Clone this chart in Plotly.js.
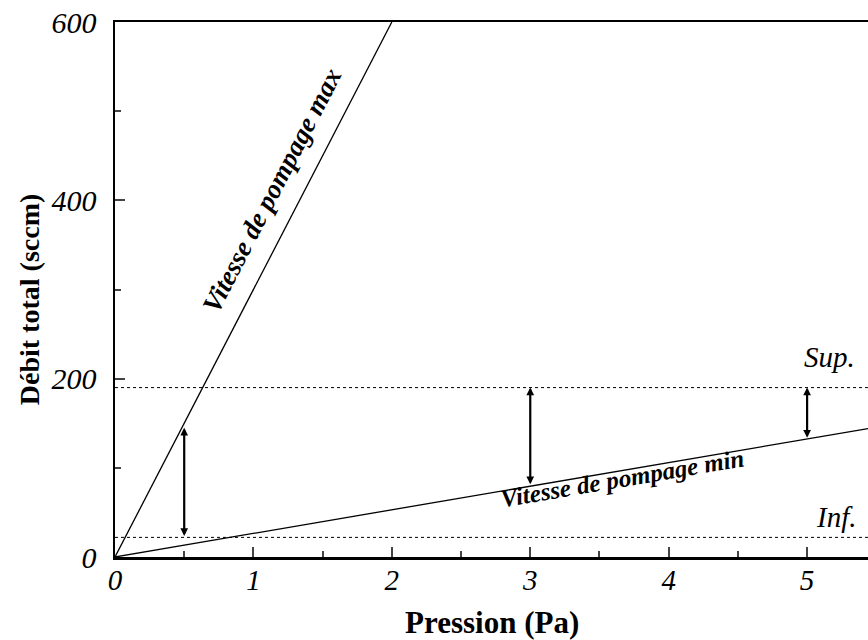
<!DOCTYPE html>
<html><head><meta charset="utf-8">
<script src="https://cdn.plot.ly/plotly-3.0.1.min.js"></script>
<style>body{margin:0;background:#fff}#g{width:868px;height:640px}</style>
</head><body><div id="g"></div>
<script>
const xMax = [0, 2];
const yMax = [0, 600];
const xMin = [0, 5.44];
const yMin = [0, 144];
const xLim = [0, 5.44];
const supLevel = 190;
const infLevel = 22;
const arrowX = [0.5, 3, 5];
const arrowLow = [22, 80, 132];
const arrowHigh = [145, 190, 190];
const xTicks = [0, 1, 2, 3, 4, 5];
const yTicks = [0, 200, 400, 600];
const labelMax = 'Vitesse de pompage max';
const labelMin = 'Vitesse de pompage min';
const xTitle = 'Pression (Pa)';
const yTitle = 'Débit total (sccm)';

const serif = 'Liberation Serif, Times New Roman, serif';
const lineStyle = {color: '#000', width: 1.3};
const traces = [
  {x: xMax, y: yMax, mode: 'lines', line: lineStyle, hoverinfo: 'skip'},
  {x: xMin, y: yMin, mode: 'lines', line: lineStyle, hoverinfo: 'skip'},
  {x: xLim, y: [supLevel, supLevel], mode: 'lines', line: {color: '#000', width: 1, dash: 'dot'}},
  {x: xLim, y: [infLevel, infLevel], mode: 'lines', line: {color: '#000', width: 1, dash: 'dot'}}
];
const ann = [];
arrowX.forEach((x, i) => {
  ann.push({x: x, y: arrowHigh[i], ax: x, ay: arrowLow[i], xref: 'x', yref: 'y', axref: 'x', ayref: 'y',
    showarrow: true, arrowhead: 2, startarrowhead: 2, arrowside: 'end+start', arrowwidth: 2.2, arrowsize: 0.7, startarrowsize: 0.7, arrowcolor: '#000', text: ''});
});
ann.push({x: 1.134, y: 412, xref: 'x', yref: 'y', text: labelMax, showarrow: false, textangle: -62.6,
  font: {family: serif, size: 27, style: 'italic', weight: 'bold', color: '#000'}});
ann.push({x: 3.663, y: 88, xref: 'x', yref: 'y', text: labelMin, showarrow: false, textangle: -9.7,
  font: {family: serif, size: 25, style: 'italic', weight: 'bold', color: '#000'}});
ann.push({x: 5.36, y: 224, xref: 'x', yref: 'y', text: 'Sup.', showarrow: false, xanchor: 'right', yanchor: 'middle',
  font: {family: serif, size: 29, style: 'italic', color: '#000'}});
ann.push({x: 5.37, y: 45, xref: 'x', yref: 'y', text: 'Inf.', showarrow: false, xanchor: 'right', yanchor: 'middle',
  font: {family: serif, size: 29, style: 'italic', color: '#000'}});
ann.push({x: 0.5, y: 0, xref: 'paper', yref: 'paper', text: '<b>' + xTitle + '</b>', showarrow: false, yanchor: 'middle', yshift: -65,
  font: {family: serif, size: 31, color: '#000'}});
ann.push({x: 0, y: 0.48, xref: 'paper', yref: 'paper', text: '<b>' + yTitle + '</b>', showarrow: false, xanchor: 'center', textangle: -90, xshift: -86,
  font: {family: serif, size: 28, color: '#000'}});

const layout = {
  width: 868, height: 640, showlegend: false,
  margin: {l: 115, r: 0, t: 22, b: 83},
  paper_bgcolor: '#fff', plot_bgcolor: '#fff',
  xaxis: {range: xLim, tickvals: xTicks, ticktext: xTicks.map(String), ticks: 'inside', ticklen: 10, tickwidth: 2,
    minor: {dtick: 0.5, ticks: 'inside', ticklen: 6, tickwidth: 2},
    showline: true, linewidth: 2.5, linecolor: '#000', mirror: true, showgrid: false, zeroline: false,
    ticklabelstandoff: -4,
    tickfont: {family: serif, size: 29, style: 'italic', color: '#000'}},
  yaxis: {range: [0, 600], tickvals: yTicks, ticktext: yTicks.map(String), ticks: 'inside', ticklen: 10, tickwidth: 2,
    minor: {dtick: 100, ticks: 'inside', ticklen: 6, tickwidth: 2},
    showline: true, linewidth: 2.5, linecolor: '#000', showgrid: false, zeroline: false,
    ticklabelstandoff: 10,
    tickfont: {family: serif, size: 30, style: 'italic', color: '#000'}},
  annotations: ann
};
Plotly.newPlot('g', traces, layout, {staticPlot: true});
</script></body></html>
